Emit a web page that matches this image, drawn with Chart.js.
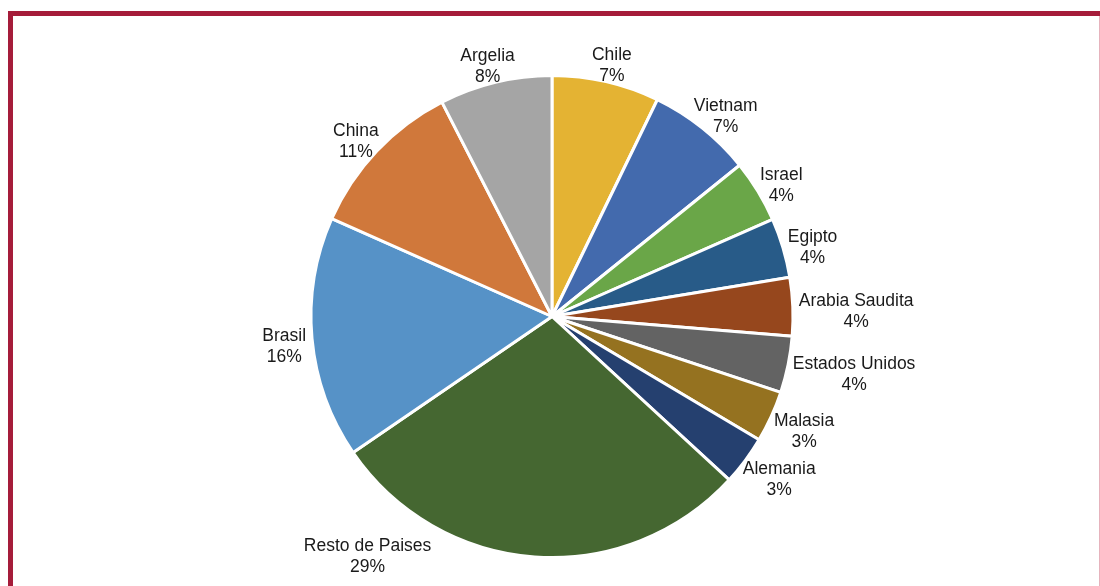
<!DOCTYPE html>
<html>
<head>
<meta charset="utf-8">
<script src="https://cdn.jsdelivr.net/npm/chart.js@4/dist/chart.umd.min.js"></script>
<style>
  html, body { margin: 0; padding: 0; background: #ffffff; }
  #wrap { position: relative; width: 1100px; height: 586px; overflow: hidden; background: #fff; }
  #frameTop { position: absolute; left: 8px; top: 11px; width: 1092px; height: 5px; background: #A51C3A; }
  #frameLeft { position: absolute; left: 8px; top: 11px; width: 5px; height: 575px; background: #A51C3A; }
  #frameRight { position: absolute; left: 1099px; top: 16px; width: 1px; height: 570px; background: #E6B3BD; }
  #c { position: absolute; left: 0; top: 0; }
</style>
</head>
<body>
<div id="wrap">
  <div id="frameTop"></div>
  <div id="frameLeft"></div>
  <div id="frameRight"></div>
  <canvas id="c" width="1100" height="586"></canvas>
</div>
<script>
// ---- data ----
const categories = ['Chile', 'Vietnam', 'Israel', 'Egipto', 'Arabia Saudita', 'Estados Unidos',
                    'Malasia', 'Alemania', 'Resto de Paises', 'Brasil', 'China', 'Argelia'];
const shares = [7.2, 7.0, 4.2, 4.0, 3.9, 3.8, 3.45, 3.3, 28.6, 16.2, 10.8, 7.55];
const sliceColors = ['#E4B333', '#436AAD', '#6AA648', '#285B88', '#96471D', '#636363',
                     '#957220', '#25406F', '#456731', '#5692C7', '#D0783B', '#A5A5A5'];

const FONT = '17.5px "Liberation Sans", Arial, sans-serif';
const LINE_H = 21;

const outsideLabels = {
  id: 'outsideLabels',
  afterDatasetsDraw(chart) {
    const ctx = chart.ctx;
    const meta = chart.getDatasetMeta(0);
    const total = shares.reduce((a, b) => a + b, 0);
    const H = chart.height;
    ctx.save();
    ctx.font = FONT;
    ctx.fillStyle = '#1a1a1a';
    ctx.textAlign = 'center';
    ctx.textBaseline = 'alphabetic';
    meta.data.forEach((arc, i) => {
      const p = arc.getProps(['x', 'y', 'startAngle', 'endAngle', 'outerRadius'], true);
      const mid = (p.startAngle + p.endAngle) / 2;
      const c = Math.cos(mid), s = Math.sin(mid);
      const lines = [categories[i], Math.round(shares[i] / total * 100) + '%'];
      const w = Math.max(...lines.map(l => ctx.measureText(l).width)) / 2;
      const h = 16.5;
      const a = p.outerRadius + 6;
      let cx = p.x + c * (a + w);
      let cy = p.y + s * (a + h) + 5;
      // keep inside the canvas
      if (cy + h > H - 14) cy = H - 14 - h;
      if (cy - h < 20) cy = 20 + h;
      // keep clear of the pie
      const clearance = p.outerRadius + 12;
      const dir = c < 0 ? -1 : 1;
      const nearestDist = () => {
        const nx = Math.max(cx - w, Math.min(p.x, cx + w));
        const ny = Math.max(cy - h, Math.min(p.y, cy + h));
        return Math.hypot(nx - p.x, ny - p.y);
      };
      let guard = 0;
      if (cy + h > p.y + p.outerRadius - 5) {
        while (nearestDist() < clearance && guard < 600) { cx += dir; guard++; }
      }
      const b1 = cy - 4.75;
      ctx.fillText(lines[0], cx, b1);
      ctx.fillText(lines[1], cx, b1 + LINE_H);
    });
    ctx.restore();
  }
};

new Chart(document.getElementById('c'), {
  type: 'pie',
  data: {
    labels: categories,
    datasets: [{
      data: shares,
      backgroundColor: sliceColors,
      borderColor: '#ffffff',
      borderWidth: 3
    }]
  },
  options: {
    responsive: false,
    animation: false,
    layout: { padding: { top: 74, bottom: 27, left: 4, right: 0 } },
    plugins: {
      legend: { display: false },
      tooltip: { enabled: false }
    }
  },
  plugins: [outsideLabels]
});
</script>
</body>
</html>
